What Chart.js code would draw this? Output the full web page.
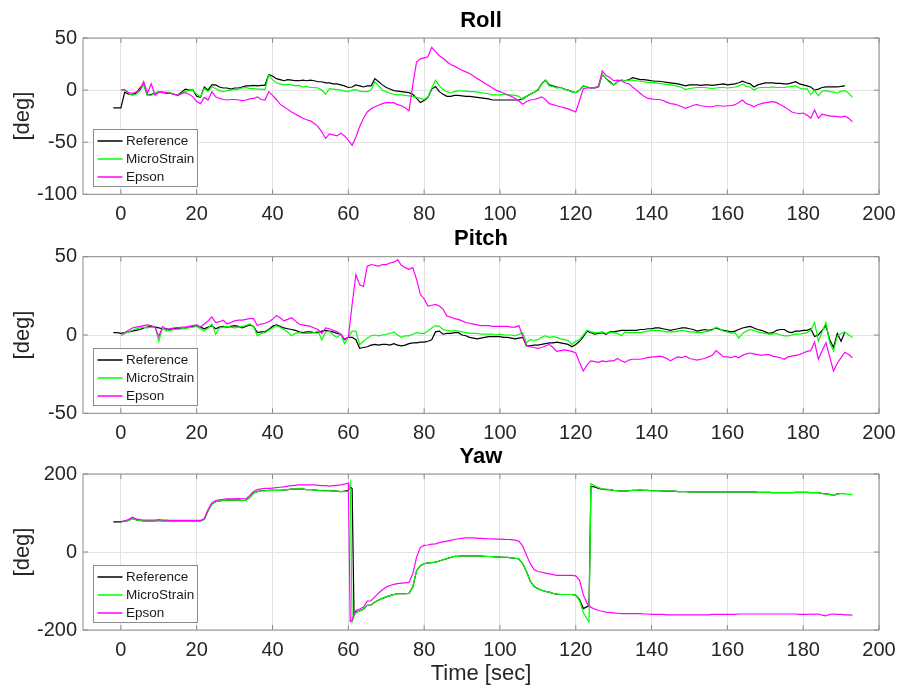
<!DOCTYPE html>
<html>
<head>
<meta charset="utf-8">
<title>Roll / Pitch / Yaw</title>
<script src="https://cdn.jsdelivr.net/npm/chart.js"></script>
<style>
  html, body { margin: 0; padding: 0; background: #ffffff; }
  #wrap { position: relative; width: 898px; height: 691px; }
  #wrap canvas { position: absolute; left: 0; top: 0; }
</style>
</head>
<body>
<div id="wrap">
  <canvas id="rollChart" width="898" height="691"></canvas>
  <canvas id="pitchChart" width="898" height="691"></canvas>
  <canvas id="yawChart" width="898" height="691"></canvas>
</div>
<script>
// Time of the first sample [sec], one sample per second after that
const startTime = -2;

// Tick labels
const xTicks = [0, 20, 40, 60, 80, 100, 120, 140, 160, 180, 200];
const rollTicks = [-100, -50, 0, 50];
const pitchTicks = [-50, 0, 50];
const yawTicks = [-200, 0, 200];

// Roll [deg], t = -2 .. 193
const rollRef = [
  -17, -17, -17, -2, -4, -4, -3, 2, 6, -5,
  -4, -3, -2, -2, -3, -3, -4, -5, -2, 1,
  0, 0, -6, -7, 3, 0, 5, 5, 3, 2,
  2, 1, 2, 2, 3, 4, 4, 4.5, 4, 4.5,
  4.5, 15, 13.5, 11, 10, 9, 10, 9.5, 9, 9,
  9.5, 9, 9.5, 9, 8, 8, 7, 7, 6, 6,
  5, 4, 2.5, 3, 5, 4, 3, 4, 4, 11,
  8, 5, 2.5, 1, -0.5, -1, -1.5, -2, -2.5, -4,
  -8, -12, -10, -7, 1, 3.5, -1.5, -4, -6, -6,
  -5, -5, -5.5, -6, -6, -6.5, -7, -7.5, -8, -8.5,
  -9.5, -9.5, -9.5, -9.5, -9.5, -9.5, -9.5, -9.5, -8, -6,
  -4, -2, 0, 6, 9.5, 5, 4, 3, 2.5, 1,
  0, -1.5, -2.5, 0, 4, 3, 2, 2, 3, 15,
  11, 8, 5, 8, 9.5, 9, 10, 12, 11, 10,
  10, 9.5, 9, 8.5, 8.5, 8, 7.5, 7, 6.5, 6,
  5, 4, 5, 5, 5, 4.5, 5, 5, 4.5, 5,
  5.5, 6, 5, 5.5, 6, 7, 8.5, 7, 6, 3,
  5, 6, 7, 7, 7, 6.5, 6.5, 6, 6, 7,
  8, 6, 5, 4, 3, 0, 1, 2.5, 3, 3,
  3, 3, 3.5, 4, null, null
];
const rollMicro = [
  null, null, 0.5, 0, -3, -5, -4, -1, 5, -5,
  -5, -3, -1.5, -2, -2, -2.5, -4, -5.5, -3, -1,
  -0.5, -0.5, -4, -6.5, 1.5, -1.5, 3, 1.5, -0.5, -1.5,
  -0.5, 0, 0.5, 1, 2, 2.5, 1.5, 1.5, 1, 1,
  0.5, 14.5, 10, 7, 6, 5, 5.5, 5, 4, 4.5,
  3, 3.5, 2.5, 2.5, 2, 0, -4, 1.5, 1, 0.5,
  0, -1, -1.5, 0, 0.5, -1, -1.5, -1.5, 0, 8,
  4, 0, -1.5, -3, -4, -4.5, -4.5, -5, -5.5, -6,
  -7, -8, -9, -6.5, 2, 9.5, 4, 0.5, -1.5, -2.5,
  -1.5, -0.5, -1, -1, -1.5, -1.5, -2, -2.5, -3, -3.5,
  -4.5, -4.5, -4.5, -4, -4.5, -4.5, -5, -6, -9, -6,
  -4, -2, 0.5, 6, 9.5, 4, 3.5, 2, 2.5, 1,
  0, -1.5, -2.5, 0, 4, 3, 2, 2.5, 3, 15,
  11, 7, 5, 8, 9.5, 9, 9.5, 9.5, 9, 8.5,
  8, 7.5, 7.5, 7, 6.5, 6, 5.5, 5, 4.5, 3.5,
  2.5, 0.5, 1.5, 2, 2.5, 2.5, 2.5, 2, 1.5, 2,
  2.5, 2.5, 2, 2.5, 3, 4, 6, 3.5, 3, 0,
  2, 2.5, 2.5, 2.5, 3, 2.5, 2.5, 2.5, 3, 3.5,
  4, 2, 1, 1.5, -4.5, 0, -5.5, -1, -0.5, -1.5,
  -2, -3, -1, -0.5, -3, -7
];
const rollEpson = [
  null, null, 0, 0.5, -2.5, -3, -2, 0, 8, -3,
  6, -5, -2, -2.5, -2.5, -3, -4, -5, -3.5, -2.5,
  -4, -6.5, -11, -13, -7, -9.5, -1.5, -6.5, -8, -9,
  -9.5, -9, -9, -9.5, -10, -9.5, -8.5, -8, -6.5, -9,
  -9.5, -1.5, -5, -9, -13.5, -16, -18.5, -21, -23, -25,
  -27, -28.5, -29.5, -32, -35, -40, -46.5, -42, -43, -44,
  -41.5, -44, -48, -53, -45, -35, -27, -21, -18, -16,
  -14.5, -13, -12, -12, -12, -14, -15, -17, -20, 5,
  27, 30, 31, 32, 41, 37, 33, 30.5, 27.5, 24.5,
  23, 21, 19, 17.5, 16, 13.5, 11, 9, 6.5, 4.5,
  2, 0, -1.5, -3, -4.5, -6, -8, -10.5, -13.5, -11,
  -9.5, -9, -8, -6.5, -9, -13, -14, -15, -16, -17,
  -18, -19.5, -21, -10, 1.5, 2, 2, 2.5, 4, 18.5,
  14, 12, 9, 9.5, 9, 7, 6, 3, 0, -3,
  -6, -8, -8.5, -9, -9, -10, -11.5, -13, -13.5, -14.5,
  -16, -17.5, -16, -14.5, -14, -15, -15.5, -16, -16, -15,
  -15, -15.5, -15, -15, -14, -12, -9.5, -13, -14, -16,
  -14, -13, -12, -11.5, -11, -12, -14, -16, -18.5, -21,
  -22, -22.5, -22, -24, -27, -19, -27, -23, -24, -25,
  -25, -25.5, -26, -25, -27, -30.5
];

// Pitch [deg], t = -2 .. 193
const pitchRef = [
  1.5, 1.5, 1, 1.5, 2, 2.5, 3, 3.5, 4.5, 5,
  5.5, 5, 4.5, 4, 4, 3.5, 4, 4.5, 4, 4.5,
  5, 5.5, 6, 5, 4, 5, 6, 4, 5, 5.5,
  5, 5.5, 6, 5.5, 4.5, 5.5, 6.5, 5.5, 1.5, 2,
  2, 3.5, 5.5, 6.5, 5.5, 4.5, 4, 3.5, 3, 2,
  1.5, 2, 2, 1.5, 1.5, 2.5, 3, 2.5, 2, 1,
  0.5, -3, -1.5, -1.5, -3, -8.5, -8, -7.5, -6.5, -6,
  -6.5, -6, -6, -6.5, -5.5, -6.5, -7, -6.5, -5.5, -5,
  -5, -4.5, -4.5, -4, -3, 2, 2.5, 0.5, 1, 1,
  1.5, 1.5, 0, -0.5, -1.5, -2, -2.5, -2, -1.5, -1,
  -1, -1, -1, -1.5, -1.5, -2, -2.5, -2, -1.5, -7,
  -7, -6.5, -6.5, -6, -5.5, -5, -5, -4.5, -5, -5.5,
  -6, -7.5, -6, -4, -1, 2.5, 1.5, 0.5, 1, 1.5,
  0.5, 2, 2, 2.5, 3, 3, 3, 3, 3, 3.5,
  3.5, 4, 4, 4.5, 4.5, 4, 3.5, 3, 3.5, 4,
  4.5, 4.5, 4, 3.5, 2.5, 3, 3.5, 3, 3.5, 4.5,
  3.5, 3, 2.5, 2, 2.5, 3.5, 4.5, 5, 5.5, 4.5,
  3.5, 3, 2, 1, 1.5, 3, 3.5, 3.5, 2, 1.5,
  2.5, 2.5, 3, 3, 4, -1, 0, 3, 6, -3,
  -8, 1, -4, 2, null, null
];
const pitchMicro = [
  null, null, -0.5, 1, 2, 3, 4, 4.5, 5, 4.5,
  5, 5.5, -4, 4.5, 2.5, 3, 3.5, 3.5, 4, 4.5,
  4.5, 5, 5.5, 4, 2.5, 4.5, 7, 0.5, 4.5, 5,
  5.5, 5, 4.5, 5, 5.5, 6, 7, 5.5, -0.5, 1,
  1.5, 3, 4.5, 6, 5, 3.5, 2, -0.5, 1, 1.5,
  1, 1, 1, 1.5, 2.5, -3, 2, 2.5, 0, -1.5,
  0.5, -5.5, -1.5, 2.5, 2.5, -6, -4, -2, -0.5, 0,
  -0.5, 0, 0.5, 1, 2, 0, -1.5, -0.5, -0.5, 0.5,
  1.5, 1, 1, 2.5, 4.5, 6, 5.5, 3.5, 3, 2.5,
  3, 2.5, 2, 1.5, 1, 1, 1, 0.5, 0.5, 0.5,
  0.5, 0, 0.5, 0, 0, 0, -0.5, 0.5, 1.5, -5,
  -3, -3.5, -3, -1.5, -0.5, -1.5, -1, -1.5, -2.5, -3,
  -3.5, -6, -4, -3, 0, 3, 2, 1.5, 1.5, 2,
  1, 1.5, 1.5, 1, -0.5, 2, 1.5, 1.5, 1.5, 1.5,
  2, 2.5, 3, 3, 3, 2.5, 2, 2, 2, 2.5,
  3, 2.5, 2, 2, 1.5, 1.5, 2, 2.5, 3, 5,
  4, 2.5, 2, 1, 1.5, -2, 1, 2.5, 3.5, 3,
  2, 1.5, 1, 0.5, 0.5, 1, 0, -0.5, -0.5, 0,
  0.5, 0.5, 1, 1.5, 3, 8, -4, 2, 8, -5,
  -10, -0.5, 1, 2, 0, -1.5
];
const pitchEpson = [
  null, null, 0.5, 1.5, 3, 4.5, 5, 5.5, 6, 6.5,
  6, 5, -1, 5.5, 3.5, 4, 4.5, 4.5, 5, 5,
  5.5, 6, 6.5, 5, 7, 9, 11.5, 8, 8.5, 9.5,
  7, 8, 9, 9.5, 9.5, 10, 10.5, 10.5, 6, 7,
  7.5, 8.5, 10, 12.5, 11, 9, 10, 11, 9, 7,
  6.5, 6, 5.5, 4.5, 3.5, 1, 4.5, 4, 3, 2,
  0.5, -2.5, -1.5, 19.5, 38.5, 32, 31, 44, 45, 44.5,
  44, 45, 45, 46, 46.5, 48, 44.5, 43, 42, 43,
  35.5, 26, 23, 18.5, 19, 19.5, 18.5, 16.5, 12, 11.5,
  10.5, 10, 9, 8, 7.5, 7, 6.5, 6, 6, 6,
  5.5, 5.5, 5.5, 5.5, 5.5, 5, 5, 6, -1, -6.5,
  -7.5, -8, -8.5, -8, -7, -6, -8, -10.5, -10, -9.5,
  -10, -10.5, -11.5, -17.5, -23, -19, -16.5, -17, -17.5, -16.5,
  -17, -16.5, -16.5, -15, -16.5, -17.5, -16, -15.5, -15.5, -15.5,
  -15, -14.5, -14, -14, -13.5, -14, -15, -16.5, -15, -14,
  -14.5, -13.5, -15, -15.5, -16, -15.5, -15, -14, -13, -10,
  -12, -14, -14, -14.5, -13.5, -14.5, -13, -12, -11.5, -12,
  -12.5, -13, -12.5, -12.5, -13.5, -14, -14.5, -15.5, -14, -13.5,
  -13, -12.5, -11.5, -10.5, -10, -4.5, -15.5, -10, -5, -14,
  -23, -18, -14.5, -11, -12.5, -14.5
];

// Yaw [deg], t = -2 .. 193, plus the samples in the two wrap-around jumps
const yawRef = [
  77, 77, 77, 79, 81, 86, 83, 81, 80, 80,
  80, 80, 81, 80, 80, 79.5, 79.5, 79.5, 79.5, 79.5,
  79.5, 79.5, 79.5, 79.5, 84, 106, 123, 129, 131, 132,
  133, 133, 133, 133, 132, 132, 140, 151, 155, 157,
  157, 158, 158, 158, 158, 159, 160, 161, 161, 161,
  161, 160, 160, 159, 158, 157, 157, 157, 156, 156,
  155, 156, 158, 163, -154, -151, -146, -137, -136, -128,
  -123, -119, -115, -112, -109, -107, -107, -107, -106, -90,
  -48, -35, -30, -28, -27, -26, -23, -20, -17, -14,
  -11, -11, -10, -10, -10, -10, -10, -10.5, -11, -11.5,
  -12, -12.5, -13, -13.5, -14, -15, -16, -18, -30, -50,
  -75, -88, -94, -98, -101, -103, -106, -108, -109, -109,
  -109, -109, -111, -122, -145, -140, 168, 167, 163, 161,
  160, 160, 158, 157, 156, 156, 157, 158, 158, 159,
  158, 158, 157, 157, 157, 156, 156, 156, 156, 155,
  155, 155, 154, 154, 154, 154, 154, 154, 154, 154,
  154, 154, 154, 154, 154, 154, 154, 154, 154, 154,
  153, 153, 153, 153, 152, 152, 152, 152, 152, 152,
  153, 153, 153, 153, 152, 152, 152, 150, 149, 148,
  145, 149, 150, 150, null, null
];
const yawMicro = [
  null, null, 78, 79, 81, 86, 83, 81, 80, 80,
  80, 80, 81, 80, 80, 79.5, 79.5, 79.5, 79.5, 79.5,
  79.5, 79.5, 79.5, 79.5, 84, 106, 123, 129, 131, 132,
  133, 133, 133, 133, 132, 132, 140, 151, 155, 157,
  157, 158, 158, 158, 158, 159, 160, 161, 161, 161,
  161, 160, 160, 159, 158, 157, 157, 157, 156, 156,
  155, 155, 156, -179, -155, -151, -146, -137, -136, -128,
  -123, -119, -115, -112, -109, -107, -107, -107, -106, -90,
  -48, -35, -30, -28, -27, -26, -23, -20, -17, -14,
  -11, -11, -10, -10, -10, -10, -10, -10.5, -11, -11.5,
  -12, -12.5, -13, -13.5, -14, -15, -16, -18, -30, -50,
  -75, -88, -94, -98, -101, -103, -106, -108, -109, -109,
  -109, -109, -111, -125, -155, -172, 175, 170, 165, 162,
  161, 160, 158, 157, 156, 156, 157, 158, 158, 159,
  158, 158, 157, 157, 157, 156, 156, 156, 156, 155,
  155, 155, 154, 154, 154, 154, 154, 154, 154, 154,
  154, 154, 154, 154, 154, 154, 154, 154, 154, 154,
  153, 153, 153, 153, 152, 152, 152, 152, 152, 152,
  153, 153, 153, 153, 152, 152, 152, 150, 149, 147,
  145, 149, 150, 149, 148, 147
];
const yawEpson = [
  null, null, 78, 80, 83, 89, 85, 83, 82, 82,
  82, 82, 83, 82, 82, 81, 81, 81, 81, 81,
  81, 81, 81, 81, 86, 109, 126, 132, 134, 135,
  136, 136, 136, 137, 136, 136, 145, 155, 160, 162,
  163, 163, 164, 165, 166, 167, 169, 170, 171, 172,
  172, 172, 172, 172, 171, 170, 170, 169, 170, 171,
  172, 174, 177, -175, -150, -146, -141, -126, -125, -115,
  -105, -97, -90, -86, -83, -81, -80, -79, -78, -56,
  -13, 12, 17, 18, 20, 21, 24, 26, 28, 30,
  32, 34, 35, 36, 36, 36, 35, 35, 34.5, 34,
  33.5, 33, 33, 32.5, 32, 31.5, 30.5, 28, 15, -8,
  -30, -45, -50, -52, -54, -56, -58, -60, -60, -60,
  -60, -60, -61, -72, -110, -132, -142, -146, -150, -152,
  -154, -155, -156, -157, -158, -158, -158, -158, -158, -158,
  -159, -159, -160, -160, -160, -160, -161, -161, -161, -161,
  -161, -161, -161, -161, -161, -161, -161, -161, -160, -160,
  -160, -160, -160, -160, -160, -159, -159, -159, -159, -159,
  -159, -159, -159, -159, -159, -159, -159, -159, -159, -159,
  -159, -160, -160, -160, -159, -160, -159, -162, -164, -160,
  -159, -160, -160, -161, -161, -162
];
const yawJumpTimes = [60.5, 61.5, 123.5];
const yawRefJump = [167, -160, -138];
const yawMicroJump = [177, -165, -179];
const yawEpsonJump = [-178, -160, -138];

const textColor = '#262626';
const gridColor = '#e2e2e2';
const frameColor = '#8c8c8c';
Chart.defaults.font.family = "'Liberation Sans', Arial, sans-serif";

// Turn a value list (one per second) into {x, y} points, adding any extra samples
function toPoints(values, extraTimes, extraValues) {
  var pts = [];
  values.forEach(function (v, i) {
    if (v !== null) pts.push({ x: startTime + i, y: v });
  });
  if (extraTimes) {
    extraTimes.forEach(function (t, i) { pts.push({ x: t, y: extraValues[i] }); });
  }
  pts.sort(function (a, b) { return a.x - b.x; });
  return pts;
}

// Box around the axes, inward ticks and the legend in the lower left corner
const boxPlugin = {
  id: 'axesBox',
  afterDatasetsDraw: function (chart) {
    var ctx = chart.ctx;
    var a = chart.chartArea;
    var sx = chart.scales.x, sy = chart.scales.y;
    ctx.save();
    ctx.strokeStyle = frameColor;
    ctx.lineWidth = 1;
    ctx.strokeRect(a.left, a.top, a.right - a.left, a.bottom - a.top);
    ctx.beginPath();
    sx.ticks.forEach(function (t) {
      var px = sx.getPixelForValue(t.value);
      ctx.moveTo(px, a.bottom); ctx.lineTo(px, a.bottom - 5);
      ctx.moveTo(px, a.top); ctx.lineTo(px, a.top + 5);
    });
    sy.ticks.forEach(function (t) {
      var py = sy.getPixelForValue(t.value);
      ctx.moveTo(a.left, py); ctx.lineTo(a.left + 5, py);
      ctx.moveTo(a.right, py); ctx.lineTo(a.right - 5, py);
    });
    ctx.stroke();

    var bw = 104, bh = 57;
    var bx = Math.round(a.left + 9.5) + 0.5;
    var by = Math.round(a.bottom - 8 - bh) + 0.5;
    ctx.fillStyle = '#ffffff';
    ctx.fillRect(bx, by, bw, bh);
    ctx.strokeRect(bx, by, bw, bh);
    ctx.font = "13.5px 'Liberation Sans', Arial, sans-serif";
    ctx.textBaseline = 'middle';
    chart.data.datasets.forEach(function (ds, i) {
      var y = by + 11.5 + i * 18;
      ctx.strokeStyle = ds.borderColor;
      ctx.lineWidth = 1.5;
      ctx.beginPath();
      ctx.moveTo(bx + 4, y); ctx.lineTo(bx + 29, y);
      ctx.stroke();
      ctx.fillStyle = '#1a1a1a';
      ctx.fillText(ds.label, bx + 32.5, y);
    });
    ctx.restore();
  }
};

function makeChart(id, opt) {
  var ctx = document.getElementById(id).getContext('2d');
  return new Chart(ctx, {
    type: 'line',
    data: {
      datasets: [
        { label: 'Reference', data: toPoints(opt.ref, opt.jumpTimes, opt.refJump), borderColor: '#000000', order: 2 },
        { label: 'MicroStrain', data: toPoints(opt.micro, opt.jumpTimes, opt.microJump), borderColor: '#00ff00', order: 1 },
        { label: 'Epson', data: toPoints(opt.epson, opt.jumpTimes, opt.epsonJump), borderColor: '#ff00ff', order: 0 }
      ]
    },
    options: {
      responsive: false,
      animation: false,
      devicePixelRatio: 1,
      events: [],
      layout: { padding: { top: opt.top, bottom: opt.bottom, left: 0, right: 19 } },
      elements: {
        point: { radius: 0 },
        line: { borderWidth: 1.2, tension: 0, fill: false }
      },
      plugins: {
        legend: { display: false },
        tooltip: { enabled: false },
        title: {
          display: true,
          text: opt.title,
          fullSize: false,
          color: '#000000',
          font: { size: 22, weight: 'bold' },
          padding: opt.titlePad
        }
      },
      scales: {
        x: {
          type: 'linear',
          min: -10,
          max: 200,
          afterBuildTicks: function (s) { s.ticks = xTicks.map(function (v) { return { value: v }; }); },
          afterFit: function (s) { s.height = opt.xAxisHeight; },
          // invisible tick marks give the labels their gap without widening the right margin
          grid: { color: gridColor, drawTicks: true, tickLength: 8, tickColor: 'rgba(0,0,0,0)' },
          border: { display: false },
          ticks: { font: { size: 20 }, color: textColor, padding: 0, maxRotation: 0, autoSkip: false },
          title: {
            display: !!opt.xTitle,
            text: opt.xTitle || '',
            font: { size: 22 },
            color: textColor,
            padding: { top: 0, bottom: 4 }
          }
        },
        y: {
          type: 'linear',
          min: opt.yTicks[0],
          max: opt.yTicks[opt.yTicks.length - 1],
          afterBuildTicks: function (s) { s.ticks = opt.yTicks.map(function (v) { return { value: v }; }); },
          afterFit: function (s) { s.width = 83; },
          grid: { color: gridColor, drawTicks: false },
          border: { display: false },
          ticks: { font: { size: 20 }, color: textColor, padding: 6 },
          title: {
            display: true,
            text: '[deg]',
            font: { size: 22 },
            color: textColor,
            padding: { top: 10, bottom: 0 }
          }
        }
      }
    },
    plugins: [boxPlugin]
  });
}

makeChart('rollChart', {
  title: 'Roll', ref: rollRef, micro: rollMicro, epson: rollEpson, yTicks: rollTicks,
  top: 0, titlePad: { top: 7.3, bottom: 4.3 }, bottom: 466.7, xAxisHeight: 30
});
makeChart('pitchChart', {
  title: 'Pitch', ref: pitchRef, micro: pitchMicro, epson: pitchEpson, yTicks: pitchTicks,
  top: 220, titlePad: { top: 5.3, bottom: 5 }, bottom: 247.7, xAxisHeight: 30
});
makeChart('yawChart', {
  title: 'Yaw', ref: yawRef, micro: yawMicro, epson: yawEpson, yTicks: yawTicks,
  jumpTimes: yawJumpTimes, refJump: yawRefJump, microJump: yawMicroJump, epsonJump: yawEpsonJump,
  top: 440, titlePad: { top: 3.3, bottom: 4.3 }, bottom: 0, xAxisHeight: 61, xTitle: 'Time [sec]'
});
</script>
</body>
</html>
